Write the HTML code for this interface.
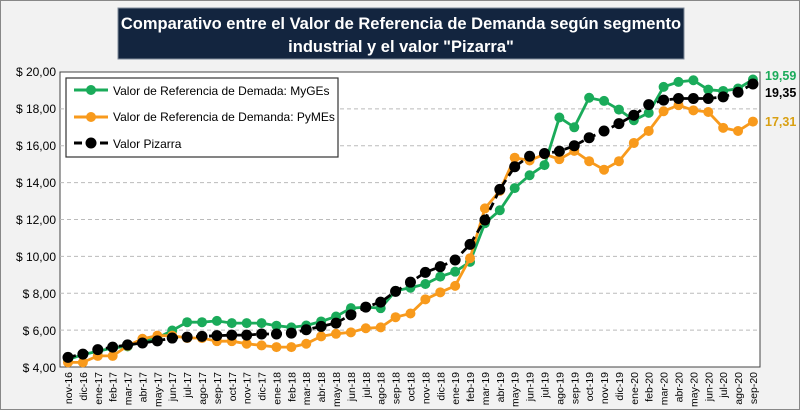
<!DOCTYPE html>
<html><head><meta charset="utf-8"><style>
body{margin:0;width:800px;height:410px;overflow:hidden;background:#f2f2f2;font-family:"Liberation Sans",sans-serif}
</style></head><body>
<svg id="s" width="800" height="410" xmlns="http://www.w3.org/2000/svg" style="position:absolute;left:0;top:0">
<rect x="0.5" y="0.5" width="799" height="409" fill="#f2f2f2" stroke="#888"/>
<rect x="118" y="8" width="566" height="51" fill="#13253f" stroke="#7f8a99"/>
<text x="401" y="29" fill="#fff" font-size="16.5" font-weight="bold" text-anchor="middle">Comparativo entre el Valor de Referencia de Demanda según segmento</text>
<text x="401" y="52" fill="#fff" font-size="16.5" font-weight="bold" text-anchor="middle">industrial y el valor "Pizarra"</text>
<rect x="60" y="72" width="700" height="295" fill="#fff" stroke="#444"/>
<g id="grid" stroke="#bbb" stroke-dasharray="4,3"></g>
<g font-size="12" fill="#000" text-anchor="end">
<text x="56" y="76">$ 20,00</text><text x="56" y="113">$ 18,00</text><text x="56" y="150">$ 16,00</text><text x="56" y="187">$ 14,00</text><text x="56" y="224">$ 12,00</text><text x="56" y="261">$ 10,00</text><text x="56" y="298">$ 8,00</text><text x="56" y="335">$ 6,00</text><text x="56" y="372">$ 4,00</text>
</g>
<g id="xl" font-size="10.5" fill="#000" text-anchor="end">
<text>nov-16</text><text>dic-16</text><text>ene-17</text><text>feb-17</text><text>mar-17</text><text>abr-17</text><text>may-17</text><text>jun-17</text><text>jul-17</text><text>ago-17</text><text>sep-17</text><text>oct-17</text><text>nov-17</text><text>dic-17</text><text>ene-18</text><text>feb-18</text><text>mar-18</text><text>abr-18</text><text>may-18</text><text>jun-18</text><text>jul-18</text><text>ago-18</text><text>sep-18</text><text>oct-18</text><text>nov-18</text><text>dic-18</text><text>ene-19</text><text>feb-19</text><text>mar-19</text><text>abr-19</text><text>may-19</text><text>jun-19</text><text>jul-19</text><text>ago-19</text><text>sep-19</text><text>oct-19</text><text>nov-19</text><text>dic-19</text><text>ene-20</text><text>feb-20</text><text>mar-20</text><text>abr-20</text><text>may-20</text><text>jun-20</text><text>jul-20</text><text>ago-20</text><text>sep-20</text>
</g>
<g id="series"></g>
<rect x="66" y="78" width="272" height="79" fill="#fff" stroke="#333" stroke-width="1.2"/>
<line x1="74" y1="90" x2="108" y2="90" stroke="#1aab5a" stroke-width="3"/><circle cx="91" cy="90" r="5" fill="#1aab5a"/>
<line x1="74" y1="117" x2="108" y2="117" stroke="#f89a1c" stroke-width="3"/><circle cx="91" cy="117" r="5" fill="#f89a1c"/>
<line x1="74" y1="143" x2="108" y2="143" stroke="#000" stroke-width="3" stroke-dasharray="8,5"/><circle cx="91" cy="143" r="5.5" fill="#000"/>
<g font-size="12" fill="#000"><text x="113" y="95">Valor de Referencia de Demada: MyGEs</text><text x="113" y="121">Valor de Referencia de Demanda: PyMEs</text><text x="113" y="148">Valor Pizarra</text></g>
<g font-size="12.5" font-weight="bold"><text x="765" y="80" fill="#1aab5a">19,59</text><text x="765" y="97" fill="#000">19,35</text><text x="765" y="126" fill="#d9a012">17,31</text></g>
</svg>
<script>
var ns="http://www.w3.org/2000/svg";
function Y(v){return 367-(v-4)*18.44;}
function X(i){return 68+i*14.89;}
var g=document.getElementById('grid');
for(var v=6;v<=18;v+=2){var l=document.createElementNS(ns,'line');l.setAttribute('x1',60);l.setAttribute('x2',760);l.setAttribute('y1',Y(v));l.setAttribute('y2',Y(v));g.appendChild(l);}
var xl=document.getElementById('xl').children;
for(var i=0;i<xl.length;i++){var x=X(i)+4;xl[i].setAttribute('transform','translate('+x+',372) rotate(-90)');}
var G=[4.4,4.67,4.85,5.03,5.12,5.4,5.57,5.98,6.43,6.43,6.5,6.38,6.38,6.38,6.24,6.15,6.25,6.47,6.74,7.19,7.25,7.19,8.13,8.3,8.5,8.9,9.17,9.7,11.8,12.5,13.7,14.4,14.95,17.53,17.0,18.6,18.43,17.96,17.38,17.78,19.19,19.46,19.55,19.04,18.97,19.1,19.59];
var O=[4.25,4.25,4.6,4.6,5.15,5.53,5.7,5.7,5.57,5.57,5.4,5.4,5.26,5.17,5.08,5.08,5.26,5.66,5.8,5.88,6.1,6.15,6.7,6.9,7.67,8.05,8.4,9.9,12.6,13.55,15.35,15.2,15.54,15.27,15.72,15.16,14.7,15.16,16.15,16.8,17.87,18.2,17.92,17.83,16.97,16.8,17.31];
var B=[4.52,4.7,4.94,5.08,5.2,5.3,5.42,5.57,5.62,5.66,5.7,5.73,5.73,5.79,5.79,5.84,6.02,6.2,6.38,6.83,7.25,7.52,8.1,8.6,9.13,9.44,9.8,10.65,11.97,13.63,14.86,15.43,15.58,15.7,16.0,16.43,16.8,17.2,17.65,18.23,18.47,18.56,18.56,18.56,18.65,18.9,19.35];
var S=document.getElementById('series');
function draw(d,c,r,dash){var p='';for(var i=0;i<d.length;i++)p+=(i?'L':'M')+X(i).toFixed(1)+','+Y(d[i]).toFixed(1);
var pa=document.createElementNS(ns,'path');pa.setAttribute('d',p);pa.setAttribute('fill','none');pa.setAttribute('stroke',c);pa.setAttribute('stroke-width',2.8);if(dash)pa.setAttribute('stroke-dasharray',dash);S.appendChild(pa);
for(var i=0;i<d.length;i++){var ci=document.createElementNS(ns,'circle');ci.setAttribute('cx',X(i));ci.setAttribute('cy',Y(d[i]));ci.setAttribute('r',r);ci.setAttribute('fill',c);S.appendChild(ci);}}
draw(G,'#1aab5a',5,null);draw(O,'#f89a1c',5,null);draw(B,'#000',5.5,'8,5');
</script>
</body></html>
